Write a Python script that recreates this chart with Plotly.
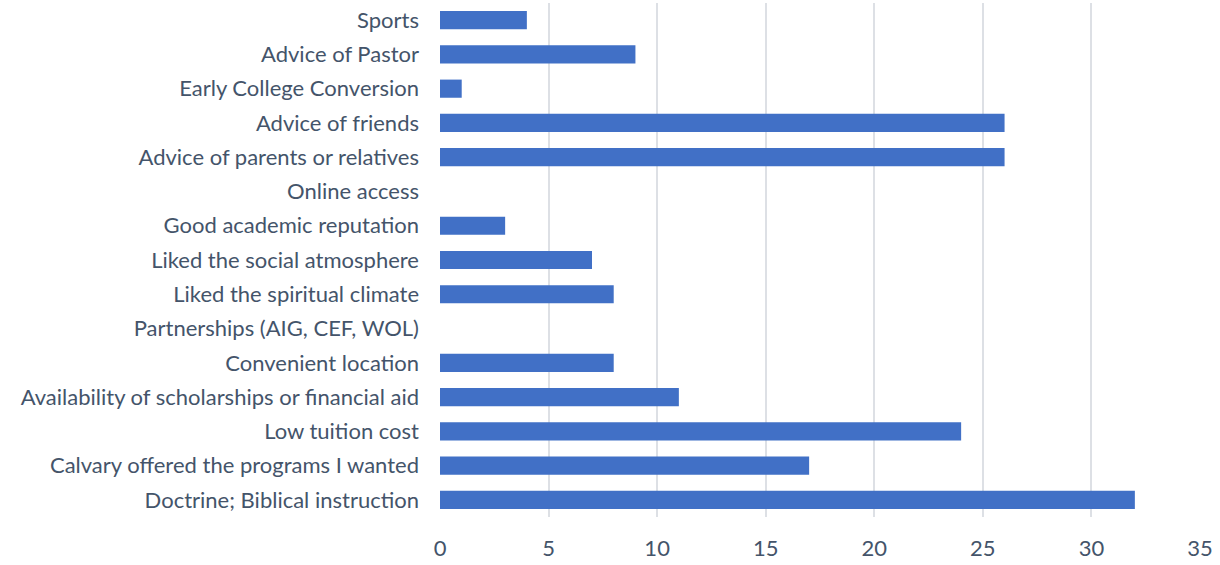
import plotly.graph_objects as go

CATEGORIES = [
    "Sports",
    "Advice of Pastor",
    "Early College Conversion",
    "Advice of friends",
    "Advice of parents or relatives",
    "Online access",
    "Good academic reputation",
    "Liked the social atmosphere",
    "Liked the spiritual climate",
    "Partnerships (AIG, CEF, WOL)",
    "Convenient location",
    "Availability of scholarships or financial aid",
    "Low tuition cost",
    "Calvary offered the programs I wanted",
    "Doctrine; Biblical instruction",
]
COUNTS = [4, 9, 1, 26, 26, 0, 3, 7, 8, 0, 8, 11, 24, 17, 32]
X_TICKS = [0, 5, 10, 15, 20, 25, 30, 35]

BAR = "#4170C6"
GRID = "#DDE0E5"
TEXT = "#44546A"

fig = go.Figure(
    go.Bar(
        x=COUNTS,
        y=CATEGORIES,
        orientation="h",
        marker=dict(color=BAR, line=dict(width=0)),
    )
)

fig.update_layout(
    width=1220,
    height=565,
    paper_bgcolor="white",
    plot_bgcolor="white",
    font=dict(family="Lato", size=22, color=TEXT),
    margin=dict(l=440, r=20, t=3, b=48),
    bargap=0.47,
    showlegend=False,
)
fig.update_xaxes(
    range=[0, 35],
    tickvals=X_TICKS,
    showgrid=True,
    gridcolor=GRID,
    gridwidth=2,
    zeroline=False,
    showline=False,
    ticks="",
    ticklabelstandoff=16,
)
fig.update_yaxes(
    autorange="reversed",
    showgrid=False,
    showline=False,
    ticks="",
    ticklabelstandoff=20,
)

# drop the default page margin so the figure sits at the window's corner
fig.write_html(
    "out.html",
    config={"displayModeBar": False},
    post_script="document.body.style.margin='0';",
)
